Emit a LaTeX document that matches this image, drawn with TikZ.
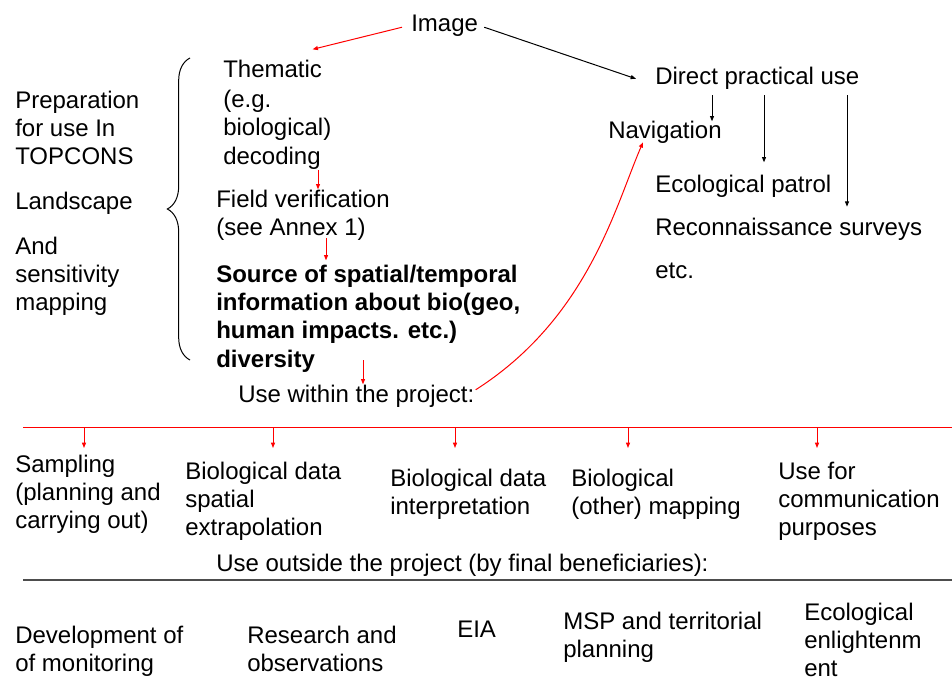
\documentclass[tikz,border=0pt]{standalone}
\usepackage{fontspec}
\setmainfont{Liberation Sans}
\usetikzlibrary{arrows.meta, calc, decorations.pathreplacing}
\definecolor{linkred}{HTML}{FF0000}
\definecolor{rulegray}{HTML}{4D4D4D}
\tikzset{
	tnode/.style={font=\fontsize{18}{#1}\selectfont, align=left, inner sep=0pt, anchor=base west},
	tnode/.default=21pt,
	rarr/.style={-{Triangle[length=4pt, width=3pt]}, line width=0.75pt, draw=linkred},
	barr/.style={-{Triangle[length=4pt, width=3pt]}, line width=0.75pt, draw=black}
}
\begin{document}
\begin{tikzpicture}[x={(0.75pt,0)}, y={(0,-0.75pt)}, every node/.style={tnode}]
	\useasboundingbox (0,0) rectangle (952,681);
	\node (img) at (411,32) {Image};
	\node[tnode=21.75pt] (thm) at (223,165) {Thematic\\(e.g.\\biological)\\decoding};
	\node (fv) at (216,235) {Field verification\\(see Annex 1)};
	\node[font=\fontsize{18}{21.25}\selectfont\bfseries] (src) at (216,367) {Source of spatial/temporal\\information about bio(geo,\\human impacts. etc.)\\diversity};
	\node (uw) at (238,402) {Use within the project:};
	\node (prep) at (15,165) {Preparation\\for use In\\TOPCONS};
	\node (land) at (15,209) {Landscape};
	\node (sens) at (15,310) {And\\sensitivity\\mapping};
	\node (dpu) at (655,85) {Direct practical use};
	\node (nav) at (608,139) {Navigation};
	\node (eco) at (655,192) {Ecological patrol};
	\node (rec) at (655,235) {Reconnaissance surveys};
	\node (etc) at (655,278) {etc.};

	\node (samp) at (15,528) {Sampling\\(planning and\\carrying out)};
	\node (bext) at (185,535) {Biological data\\spatial\\extrapolation};
	\node (bint) at (390,514) {Biological data\\interpretation};
	\node (bmap) at (571,514) {Biological\\(other) mapping};
	\node (comm) at (778,535) {Use for\\communication\\purposes};
	\node (uo) at (216,571) {Use outside the project (by final beneficiaries):};
	\node (dev) at (15,671) {Development of\\of monitoring};
	\node (res) at (247,671) {Research and\\observations};
	\node (eia) at (457,637) {EIA};
	\node (msp) at (563,657) {MSP and territorial\\planning};
	\node (enl) at (804,676) {Ecological\\enlightenm\\ent};

	\draw[decorate, decoration={brace, amplitude=17pt}, line width=0.75pt] (190,360) -- (190,58);

	\draw[rarr] ($(img.west)+(-9,1)$) -- ($(thm.north east)+(-19,-11)$);
	\draw[barr] ($(img.east)+(6,1)$) -- ($(dpu.west)+(-19,0)$);
	\path ($(thm.south west)+(95,0)$) coordinate (t1)
		($(fv.south west)+(110,-2)$) coordinate (t2)
		($(src.south west)+(147,-12)$) coordinate (t3);
	\draw[rarr] (t1) -- (t1 |- fv.north);
	\draw[rarr, shorten >=3pt] (t2) -- (t2 |- src.north);
	\draw[rarr] (t3) -- (t3 |- uw.north);
	\draw[rarr] ($(uw.east)+(1,-6)$) .. controls (588,318) and (615,207) .. ($(nav.south west)+(35,-2)$);

	\path ($(dpu.south west)+(57,5)$) coordinate (d1)
		($(dpu.south west)+(109,5)$) coordinate (d2)
		($(dpu.south west)+(192,5)$) coordinate (d3);
	\draw[barr] (d1) -- (d1 |- nav.north);
	\draw[barr, shorten >=9pt] (d2) -- (d2 |- eco.north);
	\draw[barr, shorten >=8pt] (d3) -- (d3 |- rec.north);

	\coordinate (bus) at (23,427);
	\draw[draw=linkred, line width=0.75pt] (bus) -- (952,427);
	\foreach \n/\dx in {samp/69, bext/88, bint/65, bmap/57, comm/39} {
		\path ($(\n.north west)+(\dx,0)$) coordinate (a\n);
		\draw[rarr] (a\n |- bus) -- ++(0,21);
	}
	\draw[draw=rulegray, line width=1pt] (23,580) -- (952,580);
\end{tikzpicture}
\end{document}
